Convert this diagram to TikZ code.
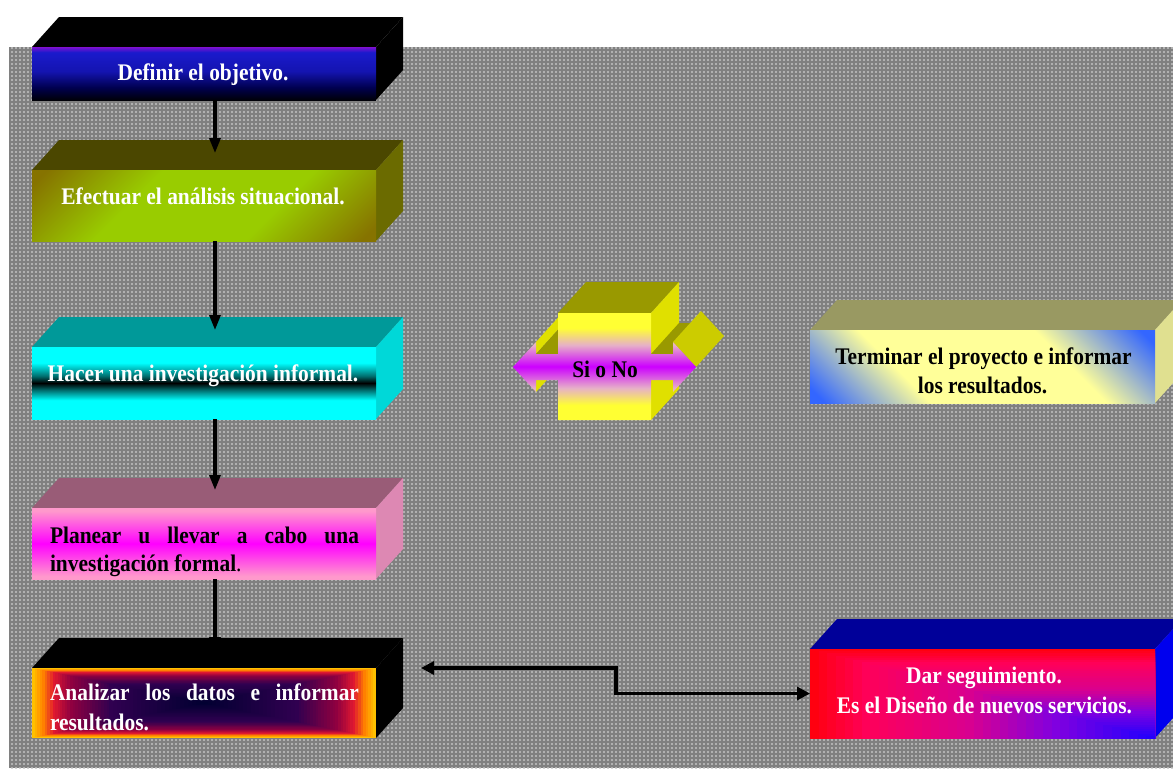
\documentclass[tikz,border=0pt]{standalone}
\usepackage{fontspec}
\setmainfont{Liberation Serif}[FakeStretch=0.9]
\usetikzlibrary{arrows.meta,patterns,calc}

% colours
\definecolor{bggray}{HTML}{808080}
\definecolor{bgdot}{HTML}{C4C4C4}
\definecolor{dfA}{HTML}{000008}
\definecolor{dfB}{HTML}{000050}
\definecolor{dfC}{HTML}{1414B0}
\definecolor{dfD}{HTML}{1A1ACC}
\definecolor{dfE}{HTML}{8010D0}
\definecolor{eftop}{HTML}{4B4700}
\definecolor{efside}{HTML}{6B6B00}
\definecolor{efbrown}{HTML}{867300}
\definecolor{eflime}{HTML}{99CC00}
\definecolor{hctop}{HTML}{009999}
\definecolor{hcside}{HTML}{00D8D8}
\definecolor{hccyan}{HTML}{00FFFF}
\definecolor{hcteal}{HTML}{007070}
\definecolor{pltop}{HTML}{995C77}
\definecolor{plside}{HTML}{DD88B3}
\definecolor{plpink}{HTML}{FF99CC}
\definecolor{plmag}{HTML}{FF00FF}
\definecolor{agA}{HTML}{FFC000}
\definecolor{agB}{HTML}{FF8000}
\definecolor{agC}{HTML}{E01830}
\definecolor{agD}{HTML}{900040}
\definecolor{agE}{HTML}{300050}
\definecolor{agF}{HTML}{000030}
\definecolor{cbtop}{HTML}{999900}
\definecolor{cbside}{HTML}{E0E000}
\definecolor{cbdiam}{HTML}{CCCC00}
\definecolor{snyel}{HTML}{FFFF33}
\definecolor{snpink}{HTML}{E6B0C8}
\definecolor{snpur}{HTML}{CC00FF}
\definecolor{tmtop}{HTML}{999962}
\definecolor{tmside}{HTML}{E0E090}
\definecolor{tmblue}{HTML}{3366FF}
\definecolor{tmyel}{HTML}{FFFF99}
\definecolor{drtop}{HTML}{000099}
\definecolor{drside}{HTML}{0000EE}
\definecolor{drA}{HTML}{FF0010}
\definecolor{drB}{HTML}{FF0058}
\definecolor{drC}{HTML}{D80090}
\definecolor{drD}{HTML}{8000E0}
\definecolor{drE}{HTML}{1A00FF}

% shadings
\pgfdeclareverticalshading{shdefinir}{100bp}{color(0bp)=(dfA); color(25bp)=(dfA); color(37bp)=(dfB); color(52bp)=(dfC); color(70bp)=(dfD); color(75bp)=(dfE); color(100bp)=(dfE)}
\pgfdeclarehorizontalshading{shefect}{100bp}{color(0bp)=(efbrown); color(17bp)=(efbrown); color(37bp)=(eflime); color(63bp)=(eflime); color(83bp)=(efbrown); color(100bp)=(efbrown)}
\pgfdeclareverticalshading{shhacer}{100bp}{color(0bp)=(hccyan); color(38bp)=(hccyan); color(45bp)=(hcteal); color(50bp)=(black); color(55bp)=(hcteal); color(64bp)=(hccyan); color(100bp)=(hccyan)}
\pgfdeclareverticalshading{shplan}{100bp}{color(0bp)=(plpink); color(27bp)=(plpink); color(50bp)=(plmag); color(73bp)=(plpink); color(100bp)=(plpink)}
\pgfdeclareverticalshading{shsino}{100bp}{color(0bp)=(snyel); color(32bp)=(snyel); color(40bp)=(snpink); color(50bp)=(snpur); color(60bp)=(snpink); color(68bp)=(snyel); color(100bp)=(snyel)}
\pgfdeclarehorizontalshading{shterm}{100bp}{color(0bp)=(tmblue); color(17bp)=(tmblue); color(35bp)=(tmyel); color(65bp)=(tmyel); color(83bp)=(tmblue); color(100bp)=(tmblue)}

% background dots
\pgfdeclarepatternformonly{bgdots}{\pgfqpoint{-1pt}{-1pt}}{\pgfqpoint{1pt}{1pt}}{\pgfqpoint{2pt}{2pt}}{\pgfpathcircle{\pgfqpoint{0pt}{0pt}}{0.55pt}\pgfusepath{fill}}

% top and side faces of a 3D box: x1 y1 x2 y2 topcolour sidecolour
\newcommand\facesthreed[6]{%
  \fill[#5] (#1,#2) -- (#1+27,#2-30) -- (#3+27,#2-30) -- (#3,#2) -- cycle;
  \fill[#6] (#3,#2) -- (#3+27,#2-30) -- (#3+27,#4-30) -- (#3,#4) -- cycle;}

% nested rectangles gradient: cx cy hw hh colA colB sFrom sTo steps
\newcommand\nestfill[9]{%
  \foreach \k in {0,...,#9}{%
    \pgfmathsetmacro\nfs{#7+(#8-#7)*\k/#9}%
    \pgfmathtruncatemacro\nfp{100*\k/#9}%
    \fill[#6!\nfp!#5] ({#1-\nfs*#3},{#2-\nfs*#4}) rectangle ({#1+\nfs*#3},{#2+\nfs*#4});
  }}

\tikzset{
  lbl/.style={font=\fontsize{11.9pt}{14.5pt}\selectfont\bfseries, inner sep=0pt, outer sep=0pt, anchor=base},
  frontface/.style={inner sep=0pt, outer sep=0pt},
  flowarr/.style={line width=1.6pt, -{Triangle[width=5.5pt,length=7.5pt]}},
  dblarr/.style={line width=1.6pt, {Triangle[width=6.5pt,length=6.5pt]}-{Triangle[width=6.5pt,length=6.5pt]}}
}

\begin{document}
\begin{tikzpicture}[x=0.5pt,y=-0.5pt]
\clip (0,0) rectangle (1173,768);
\fill[white] (0,0) rectangle (1173,768);
\fill[bggray] (9,47) rectangle (1173,768);
\fill[pattern=bgdots, pattern color=bgdot] (9,47) rectangle (1173,768);

% ---- left column boxes
\facesthreed{32}{47}{376}{100}{black}{black}
\node[frontface, shade, shading=shdefinir, minimum width=172pt, minimum height=26.5pt] (b1) at (204,73.5) {};

\facesthreed{32}{170}{376}{241}{eftop}{efside}
\node[frontface, shade, shading=shefect, shading angle=-45, minimum width=172pt, minimum height=35.5pt] (b2) at (204,205.5) {};

\facesthreed{32}{347}{376}{419}{hctop}{hcside}
\node[frontface, shade, shading=shhacer, minimum width=172pt, minimum height=36pt] (b3) at (204,383) {};

\facesthreed{32}{508}{376}{579}{pltop}{plside}
\node[frontface, shade, shading=shplan, minimum width=172pt, minimum height=35.5pt] (b4) at (204,543.5) {};

\facesthreed{32}{668}{376}{738}{black}{black}
\nestfill{204}{703}{172}{35}{agA}{agB}{1}{0.94}{4}
\nestfill{204}{703}{172}{35}{agB}{agC}{0.94}{0.88}{4}
\nestfill{204}{703}{172}{35}{agC}{agD}{0.88}{0.78}{7}
\nestfill{204}{703}{172}{35}{agD}{agE}{0.78}{0.55}{14}
\nestfill{204}{703}{172}{35}{agE}{agF}{0.55}{0.0}{24}
\node[frontface, minimum width=172pt, minimum height=35pt] (b5) at (204,703) {};

% ---- Si o No cube with double arrow
\fill[cbside] (536,342) -- (564,311) -- (564,323) -- (536,354) -- cycle;
\fill[cbside] (536,380) -- (564,349) -- (564,361) -- (536,392) -- cycle;
\fill[cbtop] (536,354) -- (564,323) -- (586,323) -- (558,354) -- cycle;
\fill[cbtop] (558,313) -- (586,282) -- (679,282) -- (651,313) -- cycle;
\fill[cbside] (651,313) -- (679,282) -- (679,389) -- (651,420) -- cycle;
\fill[cbtop] (651,354) -- (679,323) -- (701,323) -- (673,354) -- cycle;
\fill[cbdiam] (673,342) -- (701,311) -- (724,336) -- (696,367) -- cycle;
\shade[shading=shsino] (513,367) -- (536,342) -- (536,354) -- (558,354) -- (558,313) -- (651,313) -- (651,354) -- (673,354) -- (673,342) -- (696,367) -- (673,392) -- (673,380) -- (651,380) -- (651,420) -- (558,420) -- (558,380) -- (536,380) -- (536,392) -- cycle;
\node[frontface, minimum width=46.5pt, minimum height=53.5pt] (sn) at (604.5,366.5) {};

% ---- right boxes
\facesthreed{810}{330}{1155}{403}{tmtop}{tmside}
\node[frontface, shade, shading=shterm, shading angle=45, minimum width=172.5pt, minimum height=36.5pt] (b7) at (982.5,366.5) {};

\facesthreed{810}{649}{1155}{738}{drtop}{drside}
\begin{scope}
\clip (810,649) rectangle (1155,738);
\nestfill{1155}{738}{345}{89}{drA}{drB}{1}{0.85}{6}
\nestfill{1155}{738}{345}{89}{drB}{drC}{0.85}{0.55}{12}
\nestfill{1155}{738}{345}{89}{drC}{drD}{0.55}{0.3}{10}
\nestfill{1155}{738}{345}{89}{drD}{drE}{0.3}{0.0}{12}
\end{scope}
\node[frontface, minimum width=172.5pt, minimum height=44.5pt] (b6) at (982.5,693.5) {};

% ---- texts
\node[lbl, text=white] (t1) at (203,80) {Definir el objetivo.};
\node[lbl, text=white] (t2) at (203,204) {Efectuar el análisis situacional.};
\node[lbl, text=white] (t3) at (203,381.7) {Hacer una investigación informal.};
\node[lbl, anchor=base west, text=black] (t4a) at (50,543.3) {\makebox[154.5pt][s]{Planear u llevar a cabo una}};
\node[lbl, anchor=base west, text=black] (t4b) at (50,571.7) {investigación formal\textmd{.}};
\node[lbl, anchor=base west, text=white] (t5a) at (50,700.7) {\makebox[154.5pt][s]{Analizar los datos e informar}};
\node[lbl, anchor=base west, text=white] (t5b) at (50,730) {resultados.};
\node[lbl, text=black] (t6) at (605,377) {Si o No};
\node[lbl, text=black] (t7a) at (983.5,364) {Terminar el proyecto e informar};
\node[lbl, text=black] (t7b) at (982.5,393.3) {los resultados.};
\node[lbl, text=white] (t8a) at (984,683) {Dar seguimiento.};
\node[lbl, text=white] (t8b) at (984.5,713) {Es el Diseño de nuevos servicios.};

% ---- connectors
\coordinate (a2) at (215,153);
\coordinate (a3) at (215,330);
\coordinate (a4) at (215,490);
\coordinate (a5) at (215,652);
\draw[flowarr] (b1.south -| a2) -- (a2);
\draw[flowarr] (b2.south -| a3) -- (a3);
\draw[flowarr] (b3.south -| a4) -- (a4);
\draw[flowarr] (b4.south -| a5) -- (a5);

\coordinate (e1) at (421,668);
\coordinate (e2) at (616,668);
\draw[dblarr] (e1) -- (e2) |- (b6.west);
\end{tikzpicture}
\end{document}
